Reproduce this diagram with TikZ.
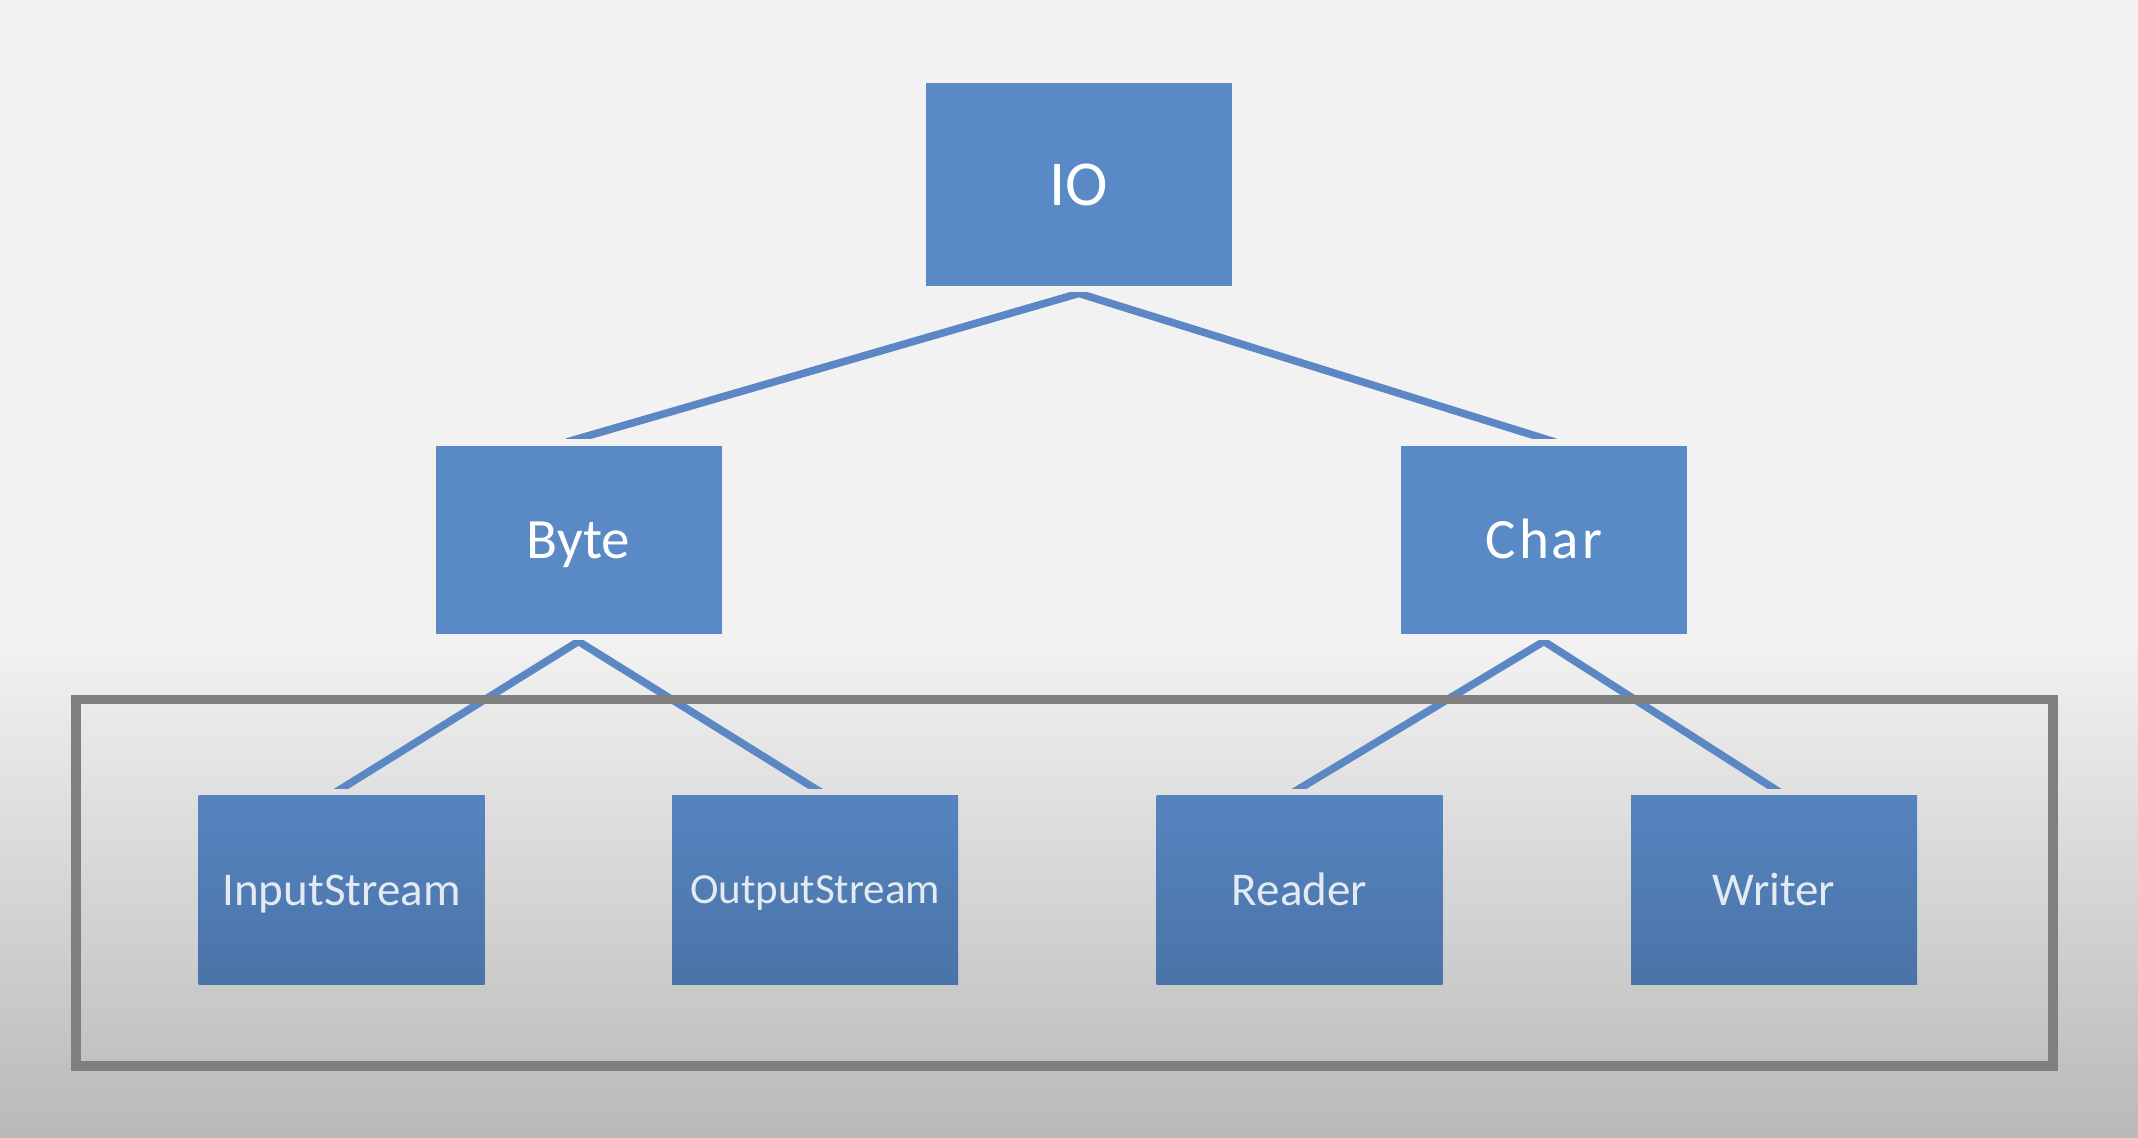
\documentclass[tikz,border=0pt]{standalone}
\usepackage{fontspec}
\setmainfont{Carlito}
\definecolor{bgtop}{HTML}{F2F2F2}
\definecolor{bgbot}{HTML}{B9B9B9}
\definecolor{boxblue}{HTML}{5A8AC6}
\definecolor{boxtop}{HTML}{5684BF}
\definecolor{boxbot}{HTML}{4A74A8}
\definecolor{linkblue}{HTML}{5B87C5}
\definecolor{framegray}{HTML}{7F7F7F}
\definecolor{lowtext}{HTML}{E4EAF2}
\tikzset{
  upperbox/.style={rectangle, fill=boxblue, inner sep=0pt, text=white,
    minimum width=143pt, minimum height=94pt, text height=18.4pt, text depth=0pt,
    font=\fontsize{28.5}{32}\selectfont},
  lowerbox/.style={rectangle, top color=boxtop, bottom color=boxbot, inner sep=0pt, text=lowtext,
    minimum width=143pt, minimum height=94pt, text height=15.1pt, text depth=0pt,
    font=\fontsize{23.5}{27}\selectfont},
  link/.style={draw=linkblue, line width=3.8pt, line join=miter, shorten <=-6pt, shorten >=-6pt},
  groupframe/.style={draw=framegray, line width=4.6pt}
}
\begin{document}
\begin{tikzpicture}[x=0.5pt,y=-0.5pt]
\useasboundingbox (0,0) rectangle (2138,1138);
\fill[bgtop] (0,0) rectangle (2138,640);
\shade[top color=bgtop, bottom color=bgbot] (0,639) rectangle (2138,1138);

\node[upperbox, minimum width=153pt, minimum height=101.5pt, text height=20.6pt, font=\fontsize{32}{36}\selectfont] (io) at (1079,184.5) {IO};
\node[upperbox] (byte) at (578.5,540) {Byte};
\node[upperbox, font=\fontsize{28.5}{32}\selectfont\addfontfeature{LetterSpace=5}] (char) at (1544,540) {Char};
\node[lowerbox] (in) at (341.5,890) {InputStream};
\node[lowerbox, text height=13.9pt, font=\fontsize{21.5}{25}\selectfont] (out) at (815,890) {OutputStream};
\node[lowerbox] (rd) at (1299.5,890) {Reader};
\node[lowerbox] (wr) at (1774,890) {Writer};

\begin{scope}
\clip (0,293) rectangle (2138,439);
\draw[link] ([yshift=3.5pt]byte.north) -- ([yshift=-3.5pt]io.south) -- ([yshift=3.5pt]char.north);
\end{scope}
\begin{scope}
\clip (0,641) rectangle (2138,789);
\draw[link] ([yshift=3.5pt]in.north) -- ([yshift=-3.5pt]byte.south) -- ([yshift=3.5pt]out.north);
\draw[link] ([yshift=3.5pt]rd.north) -- ([yshift=-3.5pt]char.south) -- ([yshift=3.5pt]wr.north);
\end{scope}

\coordinate (fa) at (76,699.5);
\coordinate (fb) at (2053,1066);
\draw[groupframe] (fa) rectangle (fb);
\end{tikzpicture}
\end{document}
